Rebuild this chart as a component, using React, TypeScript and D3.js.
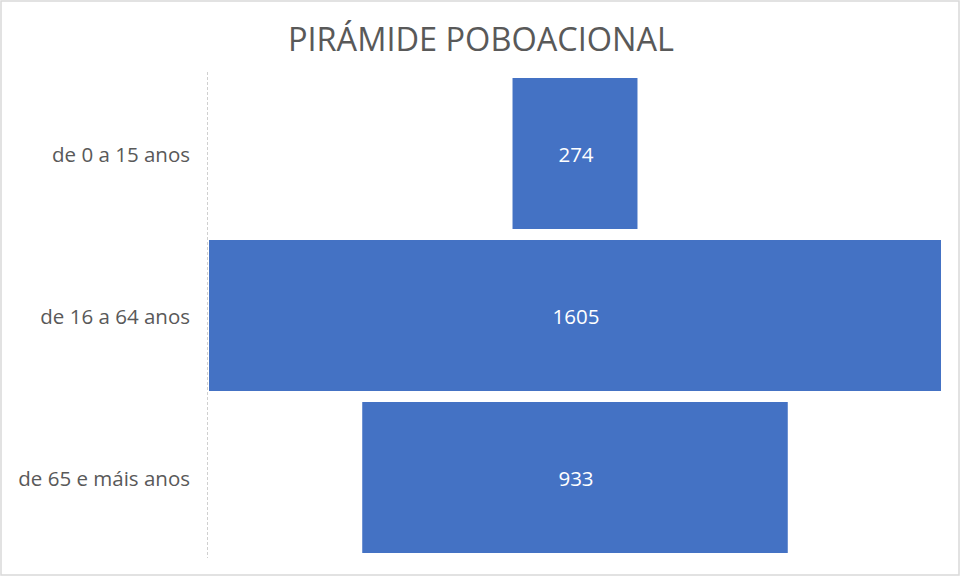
import React, { useEffect, useRef } from "react";
import { select, scaleBand, scaleLinear, max } from "d3";

const categories = ["de 0 a 15 anos", "de 16 a 64 anos", "de 65 e máis anos"];
const values = [274, 1605, 933];
const chartTitle = "PIRÁMIDE POBOACIONAL";

const W = 960;
const H = 577;
const FONT = "'Open Sans', 'Noto Sans', sans-serif";

export default function App() {
  const svgRef = useRef<SVGSVGElement>(null);

  useEffect(() => {
    const svg = select(svgRef.current!);
    svg.selectAll("*").remove();

    const maxVal = max(values) as number;
    const xScale = scaleLinear().domain([-maxVal / 2, maxVal / 2]).range([209, 941]);
    const yScale = scaleBand()
      .domain(categories)
      .range([72.5, 558.5])
      .paddingInner(0.068)
      .paddingOuter(0.034);

    // chart border
    svg
      .append("rect")
      .attr("x", 1)
      .attr("y", 1)
      .attr("width", W - 2)
      .attr("height", H - 3)
      .attr("fill", "#fff")
      .attr("stroke", "#d9d9d9")
      .attr("stroke-width", 1.5);

    svg
      .append("text")
      .attr("x", 481)
      .attr("y", 51)
      .attr("text-anchor", "middle")
      .attr("font-family", FONT)
      .attr("font-size", 32.5)
      .attr("fill", "#595959")
      .text(chartTitle);

    // vertical category axis
    svg
      .append("line")
      .attr("x1", 207.5)
      .attr("x2", 207.5)
      .attr("y1", 72)
      .attr("y2", 558)
      .attr("stroke", "#d0d0d0")
      .attr("stroke-width", 1)
      .attr("stroke-dasharray", "3,2");

    const rows = svg
      .selectAll(".row")
      .data(categories)
      .join("g")
      .attr("class", "row");

    rows
      .append("rect")
      .attr("x", (_d, i) => xScale(-values[i] / 2))
      .attr("width", (_d, i) => xScale(values[i] / 2) - xScale(-values[i] / 2))
      .attr("y", (d) => yScale(d)!)
      .attr("height", yScale.bandwidth())
      .attr("fill", "#4472c4");

    rows
      .append("text")
      .attr("x", 576)
      .attr("y", (d) => yScale(d)! + yScale.bandwidth() / 2 + 1)
      .attr("dy", "0.35em")
      .attr("text-anchor", "middle")
      .attr("font-family", FONT)
      .attr("font-size", 20.5)
      .attr("fill", "#fff")
      .text((_d, i) => values[i]);

    rows
      .append("text")
      .attr("x", 190)
      .attr("y", (d) => yScale(d)! + yScale.bandwidth() / 2 + 1)
      .attr("dy", "0.35em")
      .attr("text-anchor", "end")
      .attr("font-family", FONT)
      .attr("font-size", 20.5)
      .attr("fill", "#595959")
      .text((d) => d);
  }, []);

  return (
    <svg
      ref={svgRef}
      width={W}
      height={H}
      style={{ position: "absolute", left: 0, top: 0, display: "block" }}
    />
  );
}
